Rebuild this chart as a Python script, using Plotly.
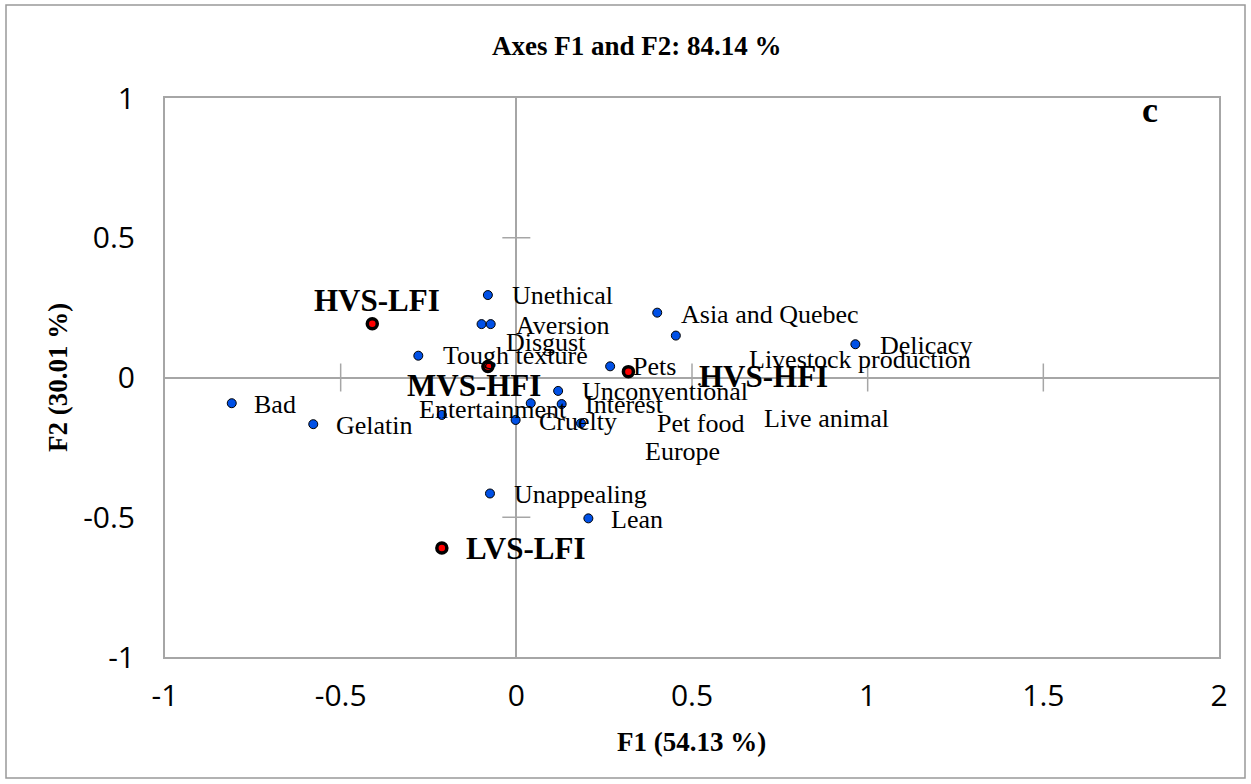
import plotly.graph_objects as go

# ---- data ----
var_x = [-0.810, -0.578, -0.279, -0.099, -0.073, -0.081, -0.212, 0.041, -0.002,
         0.119, 0.129, 0.184, 0.267, 0.401, 0.454, 0.965, -0.075, 0.205]
var_y = [-0.092, -0.167, 0.078, 0.191, 0.191, 0.295, -0.134, -0.092, -0.152,
         -0.048, -0.095, -0.164, 0.040, 0.232, 0.150, 0.119, -0.415, -0.504]

var_labels = ["Unethical", "Aversion", "Disgust", "Tough texture", "Pets", "Asia and Quebec",
              "Unconventional", "Interest", "Entertainment", "Cruelty", "Pet food", "Europe",
              "Livestock production", "Delicacy", "Live animal", "Bad", "Gelatin",
              "Unappealing", "Lean"]
var_label_x = [-0.018, -0.006, -0.034, -0.215, 0.326, 0.464, 0.181, 0.189, -0.282, 0.058,
               0.395, 0.360, 0.656, 1.029, 0.700, -0.752, -0.518, -0.013, 0.265]
var_label_y = [0.294, 0.187, 0.124, 0.077, 0.039, 0.225, -0.049, -0.098, -0.116, -0.159,
               -0.163, -0.264, 0.066, 0.114, -0.148, -0.097, -0.170, -0.417, -0.507]

obs_names = ["HVS-LFI", "MVS-HFI", "HVS-HFI", "LVS-LFI"]
obs_x = [-0.410, -0.081, 0.319, -0.212]
obs_y = [0.192, 0.039, 0.021, -0.610]
obs_label_x = [-0.581, -0.317, 0.515, -0.149]
obs_label_y = [0.275, -0.028, 0.004, -0.611]

tick_vals = [-1, -0.5, 0, 0.5, 1, 1.5, 2]
tick_text = ["-1", "-0.5", "0", "0.5", "1", "1.5", "2"]
ytick_vals = [-1, -0.5, 0, 0.5, 1]
ytick_text = ["-1", "-0.5", "0", "0.5", "1"]
xcross = [-0.5, 0.5, 1, 1.5]
ycross = [-0.5, 0.5]

title_text = "Axes F1 and F2: 84.14 %"
xtitle = "F1 (54.13 %)"
ytitle = "F2 (30.01 %)"
panel = "c"

# ---- figure ----
W, H = 1251, 784
ml, mr, mt, mb = 165, 32, 98, 127
pw, ph = W - ml - mr, H - mt - mb

def px2paper_x(px):
    return (px - ml) / pw

def px2paper_y(py):
    return (H - mb - py) / ph

grey = "#a6a6a6"
serif = "Liberation Serif"

fig = go.Figure()

# tick crosses on zero lines
fig.add_trace(go.Scatter(x=xcross, y=[0] * len(xcross), mode="markers",
                         marker=dict(symbol="line-ns", size=20, line=dict(color=grey, width=1.5)),
                         hoverinfo="skip", showlegend=False))
fig.add_trace(go.Scatter(x=[0] * len(ycross), y=ycross, mode="markers",
                         marker=dict(symbol="line-ew", size=20, line=dict(color=grey, width=1.5)),
                         hoverinfo="skip", showlegend=False))

fig.add_trace(go.Scatter(x=var_x, y=var_y, mode="markers",
                         marker=dict(symbol="circle", size=9, color="#0050E6",
                                     line=dict(color="black", width=1)),
                         showlegend=False))
fig.add_trace(go.Scatter(x=obs_x, y=obs_y, mode="markers",
                         marker=dict(symbol="circle", size=10, color="#FF0000",
                                     line=dict(color="black", width=3.5)),
                         showlegend=False))

annotations = []
for t, lx, ly in zip(var_labels, var_label_x, var_label_y):
    annotations.append(dict(x=lx, y=ly, text=t, showarrow=False, xanchor="left", yanchor="middle",
                            font=dict(family=serif, size=26, color="black")))
for t, lx, ly in zip(obs_names, obs_label_x, obs_label_y):
    annotations.append(dict(x=lx, y=ly, text="<b>" + t + "</b>", showarrow=False, xanchor="left",
                            yanchor="middle", font=dict(family=serif, size=31, color="black")))

annotations.append(dict(xref="paper", yref="paper", x=px2paper_x(1150), y=px2paper_y(110),
                        text="<b>" + panel + "</b>", showarrow=False, xanchor="center", yanchor="middle",
                        font=dict(family=serif, size=36, color="black")))
annotations.append(dict(xref="paper", yref="paper", x=px2paper_x(637), y=px2paper_y(46),
                        text="<b>" + title_text + "</b>", showarrow=False, xanchor="center", yanchor="middle",
                        font=dict(family=serif, size=27, color="black")))
annotations.append(dict(xref="paper", yref="paper", x=px2paper_x(691), y=px2paper_y(742),
                        text="<b>" + xtitle + "</b>", showarrow=False, xanchor="center", yanchor="middle",
                        font=dict(family=serif, size=27, color="black")))
annotations.append(dict(xref="paper", yref="paper", x=px2paper_x(58), y=px2paper_y(378),
                        text="<b>" + ytitle + "</b>", showarrow=False, xanchor="center", yanchor="middle",
                        textangle=-90, font=dict(family=serif, size=27, color="black")))

shapes = [dict(type="rect", xref="paper", yref="paper",
               x0=px2paper_x(6), x1=px2paper_x(1245), y0=px2paper_y(778), y1=px2paper_y(5),
               line=dict(color="#999999", width=1.5), fillcolor="rgba(0,0,0,0)", layer="below")]

fig.update_layout(
    width=W, height=H,
    margin=dict(l=ml, r=mr, t=mt, b=mb),
    paper_bgcolor="white", plot_bgcolor="white",
    annotations=annotations, shapes=shapes,
    xaxis=dict(range=[-1, 2], tickvals=tick_vals, ticktext=tick_text, showgrid=False,
               zeroline=True, zerolinecolor=grey, zerolinewidth=2,
               showline=True, mirror=True, linecolor=grey, linewidth=2,
               ticks="", ticklabelstandoff=11,
               tickfont=dict(family="Open Sans", size=30, color="black")),
    yaxis=dict(range=[-1, 1], tickvals=ytick_vals, ticktext=ytick_text, showgrid=False,
               zeroline=True, zerolinecolor=grey, zerolinewidth=2,
               showline=True, mirror=True, linecolor=grey, linewidth=2,
               ticks="", ticklabelstandoff=22,
               tickfont=dict(family="Open Sans", size=30, color="black")),
)

fig.write_html("out.html")
